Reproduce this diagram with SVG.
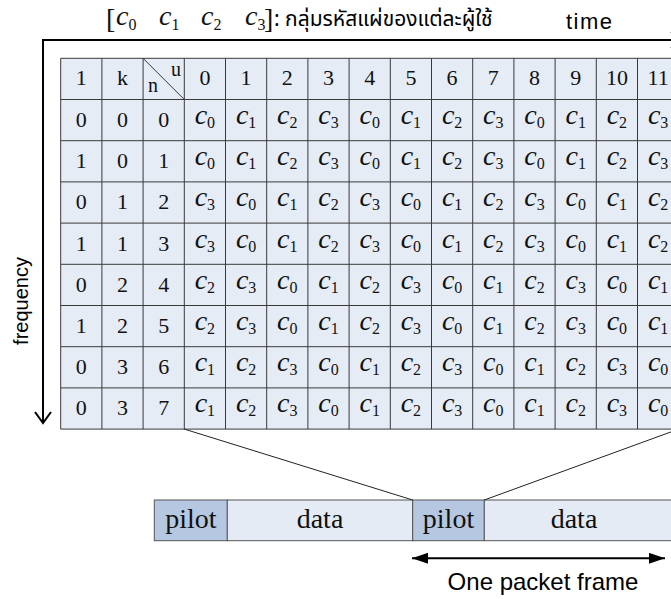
<svg xmlns="http://www.w3.org/2000/svg" width="671" height="599" viewBox="0 0 671 599">
<defs>
<marker id="tri" markerUnits="userSpaceOnUse" markerWidth="16" markerHeight="12" refX="16" refY="5.5" orient="auto-start-reverse"><path d="M0,0 L16,5.5 L0,11 z" fill="#000"/></marker>
</defs>
<style>
.bg{fill:#e6ecf6}
.grid{stroke:#3a3a3a;stroke-width:1;fill:none}
.t{font-family:"Liberation Serif","Times New Roman",serif;font-size:22px;text-anchor:middle;fill:#111}
.c{font-family:"Liberation Serif","Times New Roman",serif;font-style:italic;font-size:28px;text-anchor:middle;fill:#111}
.s{font-size:16px;font-style:normal}
.axis{stroke:#000;stroke-width:2;fill:none}
.lab{font-family:"Liberation Sans",Arial,sans-serif;fill:#000}
.pilot{fill:#b6c7e1;stroke:#555;stroke-width:1}
.data{fill:#e4ebf5;stroke:#555;stroke-width:1}
.pt{font-family:"Liberation Serif","Times New Roman",serif;font-size:28px;text-anchor:middle;fill:#111}
.con{stroke:#222;stroke-width:1;fill:none}
</style>
<rect width="671" height="599" fill="#fff"/>

<g id="title">
<text x="106" y="28" class="t" style="font-size:28px;text-anchor:start">[</text>
<text x="116" y="25" class="c" style="font-size:28px;text-anchor:start">c<tspan class="s" dy="5">0</tspan></text>
<text x="159" y="25" class="c" style="font-size:28px;text-anchor:start">c<tspan class="s" dy="5">1</tspan></text>
<text x="201" y="25" class="c" style="font-size:28px;text-anchor:start">c<tspan class="s" dy="5">2</tspan></text>
<text x="245" y="25" class="c" style="font-size:28px;text-anchor:start">c<tspan class="s" dy="5">3</tspan></text>
<text x="264" y="28" class="t" style="font-size:28px;text-anchor:start">]</text>
<text x="274" y="26" style="font-family:'Noto Sans Thai','Noto Sans','Tlwg Typo',Tahoma,sans-serif;font-size:21px;fill:#000">: กลุ่มรหัสแผ่ของแต่ละผู้ใช้</text>
</g>

<g id="axes">
<path class="axis" d="M43,423 V40 H684"/>
<polyline class="axis" points="35,412 43,423 51,412"/>
<polyline class="axis" points="671,32 682,40 671,48"/>
<text class="lab" x="566" y="29" style="font-size:22px" textLength="46">time</text>
<text class="lab" transform="translate(28,301) rotate(-90)" text-anchor="middle" style="font-size:20px">frequency</text>
</g>

<g id="table">
<rect class="bg" x="60.7" y="58.3" width="620" height="370.8"/>
<g class="grid">
<path d="M60.7,58.3V429.1M101.9,58.3V429.1M143.1,58.3V429.1M184.3,58.3V429.1M225.5,58.3V429.1M266.7,58.3V429.1M307.9,58.3V429.1M349.1,58.3V429.1M390.3,58.3V429.1M431.5,58.3V429.1M472.7,58.3V429.1M513.9,58.3V429.1M555.1,58.3V429.1M596.3,58.3V429.1M637.5,58.3V429.1"/>
<path d="M60.7,58.3H681M60.7,99.5H681M60.7,140.7H681M60.7,181.9H681M60.7,223.1H681M60.7,264.3H681M60.7,305.5H681M60.7,346.7H681M60.7,387.9H681M60.7,429.1H681"/>
<path d="M143.1,58.3L184.3,99.5"/>
</g>
<g id="row-header" transform="translate(0,58.3)">
<text class="t" x="81.3" y="27">1</text><text class="t" x="122.5" y="27">k</text>
<text class="t" x="176" y="18" style="font-size:20px">u</text><text class="t" x="153" y="34" style="font-size:20px">n</text>
<text class="t" x="204.9" y="27">0</text><text class="t" x="246.1" y="27">1</text><text class="t" x="287.3" y="27">2</text><text class="t" x="328.5" y="27">3</text><text class="t" x="369.7" y="27">4</text><text class="t" x="410.9" y="27">5</text><text class="t" x="452.1" y="27">6</text><text class="t" x="493.3" y="27">7</text><text class="t" x="534.5" y="27">8</text><text class="t" x="575.7" y="27">9</text><text class="t" x="616.9" y="27">10</text><text class="t" x="658.1" y="27">11</text>
</g>
<g id="row-n0" transform="translate(0,99.5)">
<text class="t" x="81.3" y="27.5">0</text><text class="t" x="122.5" y="27.5">0</text><text class="t" x="163.7" y="27.5">0</text>
<text class="c" x="204.9" y="24.5">c<tspan class="s" dy="4">0</tspan></text><text class="c" x="246.1" y="24.5">c<tspan class="s" dy="4">1</tspan></text><text class="c" x="287.3" y="24.5">c<tspan class="s" dy="4">2</tspan></text><text class="c" x="328.5" y="24.5">c<tspan class="s" dy="4">3</tspan></text><text class="c" x="369.7" y="24.5">c<tspan class="s" dy="4">0</tspan></text><text class="c" x="410.9" y="24.5">c<tspan class="s" dy="4">1</tspan></text><text class="c" x="452.1" y="24.5">c<tspan class="s" dy="4">2</tspan></text><text class="c" x="493.3" y="24.5">c<tspan class="s" dy="4">3</tspan></text><text class="c" x="534.5" y="24.5">c<tspan class="s" dy="4">0</tspan></text><text class="c" x="575.7" y="24.5">c<tspan class="s" dy="4">1</tspan></text><text class="c" x="616.9" y="24.5">c<tspan class="s" dy="4">2</tspan></text><text class="c" x="658.1" y="24.5">c<tspan class="s" dy="4">3</tspan></text>
</g>
<g id="row-n1" transform="translate(0,140.7)">
<text class="t" x="81.3" y="27.5">1</text><text class="t" x="122.5" y="27.5">0</text><text class="t" x="163.7" y="27.5">1</text>
<text class="c" x="204.9" y="24.5">c<tspan class="s" dy="4">0</tspan></text><text class="c" x="246.1" y="24.5">c<tspan class="s" dy="4">1</tspan></text><text class="c" x="287.3" y="24.5">c<tspan class="s" dy="4">2</tspan></text><text class="c" x="328.5" y="24.5">c<tspan class="s" dy="4">3</tspan></text><text class="c" x="369.7" y="24.5">c<tspan class="s" dy="4">0</tspan></text><text class="c" x="410.9" y="24.5">c<tspan class="s" dy="4">1</tspan></text><text class="c" x="452.1" y="24.5">c<tspan class="s" dy="4">2</tspan></text><text class="c" x="493.3" y="24.5">c<tspan class="s" dy="4">3</tspan></text><text class="c" x="534.5" y="24.5">c<tspan class="s" dy="4">0</tspan></text><text class="c" x="575.7" y="24.5">c<tspan class="s" dy="4">1</tspan></text><text class="c" x="616.9" y="24.5">c<tspan class="s" dy="4">2</tspan></text><text class="c" x="658.1" y="24.5">c<tspan class="s" dy="4">3</tspan></text>
</g>
<g id="row-n2" transform="translate(0,181.9)">
<text class="t" x="81.3" y="27.5">0</text><text class="t" x="122.5" y="27.5">1</text><text class="t" x="163.7" y="27.5">2</text>
<text class="c" x="204.9" y="24.5">c<tspan class="s" dy="4">3</tspan></text><text class="c" x="246.1" y="24.5">c<tspan class="s" dy="4">0</tspan></text><text class="c" x="287.3" y="24.5">c<tspan class="s" dy="4">1</tspan></text><text class="c" x="328.5" y="24.5">c<tspan class="s" dy="4">2</tspan></text><text class="c" x="369.7" y="24.5">c<tspan class="s" dy="4">3</tspan></text><text class="c" x="410.9" y="24.5">c<tspan class="s" dy="4">0</tspan></text><text class="c" x="452.1" y="24.5">c<tspan class="s" dy="4">1</tspan></text><text class="c" x="493.3" y="24.5">c<tspan class="s" dy="4">2</tspan></text><text class="c" x="534.5" y="24.5">c<tspan class="s" dy="4">3</tspan></text><text class="c" x="575.7" y="24.5">c<tspan class="s" dy="4">0</tspan></text><text class="c" x="616.9" y="24.5">c<tspan class="s" dy="4">1</tspan></text><text class="c" x="658.1" y="24.5">c<tspan class="s" dy="4">2</tspan></text>
</g>
<g id="row-n3" transform="translate(0,223.1)">
<text class="t" x="81.3" y="27.5">1</text><text class="t" x="122.5" y="27.5">1</text><text class="t" x="163.7" y="27.5">3</text>
<text class="c" x="204.9" y="24.5">c<tspan class="s" dy="4">3</tspan></text><text class="c" x="246.1" y="24.5">c<tspan class="s" dy="4">0</tspan></text><text class="c" x="287.3" y="24.5">c<tspan class="s" dy="4">1</tspan></text><text class="c" x="328.5" y="24.5">c<tspan class="s" dy="4">2</tspan></text><text class="c" x="369.7" y="24.5">c<tspan class="s" dy="4">3</tspan></text><text class="c" x="410.9" y="24.5">c<tspan class="s" dy="4">0</tspan></text><text class="c" x="452.1" y="24.5">c<tspan class="s" dy="4">1</tspan></text><text class="c" x="493.3" y="24.5">c<tspan class="s" dy="4">2</tspan></text><text class="c" x="534.5" y="24.5">c<tspan class="s" dy="4">3</tspan></text><text class="c" x="575.7" y="24.5">c<tspan class="s" dy="4">0</tspan></text><text class="c" x="616.9" y="24.5">c<tspan class="s" dy="4">1</tspan></text><text class="c" x="658.1" y="24.5">c<tspan class="s" dy="4">2</tspan></text>
</g>
<g id="row-n4" transform="translate(0,264.3)">
<text class="t" x="81.3" y="27.5">0</text><text class="t" x="122.5" y="27.5">2</text><text class="t" x="163.7" y="27.5">4</text>
<text class="c" x="204.9" y="24.5">c<tspan class="s" dy="4">2</tspan></text><text class="c" x="246.1" y="24.5">c<tspan class="s" dy="4">3</tspan></text><text class="c" x="287.3" y="24.5">c<tspan class="s" dy="4">0</tspan></text><text class="c" x="328.5" y="24.5">c<tspan class="s" dy="4">1</tspan></text><text class="c" x="369.7" y="24.5">c<tspan class="s" dy="4">2</tspan></text><text class="c" x="410.9" y="24.5">c<tspan class="s" dy="4">3</tspan></text><text class="c" x="452.1" y="24.5">c<tspan class="s" dy="4">0</tspan></text><text class="c" x="493.3" y="24.5">c<tspan class="s" dy="4">1</tspan></text><text class="c" x="534.5" y="24.5">c<tspan class="s" dy="4">2</tspan></text><text class="c" x="575.7" y="24.5">c<tspan class="s" dy="4">3</tspan></text><text class="c" x="616.9" y="24.5">c<tspan class="s" dy="4">0</tspan></text><text class="c" x="658.1" y="24.5">c<tspan class="s" dy="4">1</tspan></text>
</g>
<g id="row-n5" transform="translate(0,305.5)">
<text class="t" x="81.3" y="27.5">1</text><text class="t" x="122.5" y="27.5">2</text><text class="t" x="163.7" y="27.5">5</text>
<text class="c" x="204.9" y="24.5">c<tspan class="s" dy="4">2</tspan></text><text class="c" x="246.1" y="24.5">c<tspan class="s" dy="4">3</tspan></text><text class="c" x="287.3" y="24.5">c<tspan class="s" dy="4">0</tspan></text><text class="c" x="328.5" y="24.5">c<tspan class="s" dy="4">1</tspan></text><text class="c" x="369.7" y="24.5">c<tspan class="s" dy="4">2</tspan></text><text class="c" x="410.9" y="24.5">c<tspan class="s" dy="4">3</tspan></text><text class="c" x="452.1" y="24.5">c<tspan class="s" dy="4">0</tspan></text><text class="c" x="493.3" y="24.5">c<tspan class="s" dy="4">1</tspan></text><text class="c" x="534.5" y="24.5">c<tspan class="s" dy="4">2</tspan></text><text class="c" x="575.7" y="24.5">c<tspan class="s" dy="4">3</tspan></text><text class="c" x="616.9" y="24.5">c<tspan class="s" dy="4">0</tspan></text><text class="c" x="658.1" y="24.5">c<tspan class="s" dy="4">1</tspan></text>
</g>
<g id="row-n6" transform="translate(0,346.7)">
<text class="t" x="81.3" y="27.5">0</text><text class="t" x="122.5" y="27.5">3</text><text class="t" x="163.7" y="27.5">6</text>
<text class="c" x="204.9" y="24.5">c<tspan class="s" dy="4">1</tspan></text><text class="c" x="246.1" y="24.5">c<tspan class="s" dy="4">2</tspan></text><text class="c" x="287.3" y="24.5">c<tspan class="s" dy="4">3</tspan></text><text class="c" x="328.5" y="24.5">c<tspan class="s" dy="4">0</tspan></text><text class="c" x="369.7" y="24.5">c<tspan class="s" dy="4">1</tspan></text><text class="c" x="410.9" y="24.5">c<tspan class="s" dy="4">2</tspan></text><text class="c" x="452.1" y="24.5">c<tspan class="s" dy="4">3</tspan></text><text class="c" x="493.3" y="24.5">c<tspan class="s" dy="4">0</tspan></text><text class="c" x="534.5" y="24.5">c<tspan class="s" dy="4">1</tspan></text><text class="c" x="575.7" y="24.5">c<tspan class="s" dy="4">2</tspan></text><text class="c" x="616.9" y="24.5">c<tspan class="s" dy="4">3</tspan></text><text class="c" x="658.1" y="24.5">c<tspan class="s" dy="4">0</tspan></text>
</g>
<g id="row-n7" transform="translate(0,387.9)">
<text class="t" x="81.3" y="27.5">0</text><text class="t" x="122.5" y="27.5">3</text><text class="t" x="163.7" y="27.5">7</text>
<text class="c" x="204.9" y="24.5">c<tspan class="s" dy="4">1</tspan></text><text class="c" x="246.1" y="24.5">c<tspan class="s" dy="4">2</tspan></text><text class="c" x="287.3" y="24.5">c<tspan class="s" dy="4">3</tspan></text><text class="c" x="328.5" y="24.5">c<tspan class="s" dy="4">0</tspan></text><text class="c" x="369.7" y="24.5">c<tspan class="s" dy="4">1</tspan></text><text class="c" x="410.9" y="24.5">c<tspan class="s" dy="4">2</tspan></text><text class="c" x="452.1" y="24.5">c<tspan class="s" dy="4">3</tspan></text><text class="c" x="493.3" y="24.5">c<tspan class="s" dy="4">0</tspan></text><text class="c" x="534.5" y="24.5">c<tspan class="s" dy="4">1</tspan></text><text class="c" x="575.7" y="24.5">c<tspan class="s" dy="4">2</tspan></text><text class="c" x="616.9" y="24.5">c<tspan class="s" dy="4">3</tspan></text><text class="c" x="658.1" y="24.5">c<tspan class="s" dy="4">0</tspan></text>
</g>
</g>

<g id="packet">
<g id="pilot-1"><rect class="pilot" x="154.3" y="500" width="73" height="40.7"/><text class="pt" x="190.8" y="528">pilot</text></g>
<g id="data-1"><rect class="data" x="227.3" y="500" width="185.4" height="40.7"/><text class="pt" x="320" y="528">data</text></g>
<g id="pilot-2"><rect class="pilot" x="412.7" y="500" width="71.6" height="40.7"/><text class="pt" x="448.5" y="528">pilot</text></g>
<g id="data-2"><rect class="data" x="484.3" y="500" width="200" height="40.7"/><text class="pt" x="574" y="528">data</text></g>
</g>

<g id="connectors">
<line class="con" x1="184.3" y1="429.1" x2="412.7" y2="500"/>
<line class="con" x1="484.3" y1="500" x2="678.7" y2="429.1"/>
<line x1="412" y1="558.3" x2="665" y2="558.3" stroke="#000" stroke-width="2" marker-start="url(#tri)" marker-end="url(#tri)"/>
</g>

<g id="frame-label">
<text class="lab" x="543" y="590" text-anchor="middle" style="font-size:24px">One packet frame</text>
</g>
</svg>
